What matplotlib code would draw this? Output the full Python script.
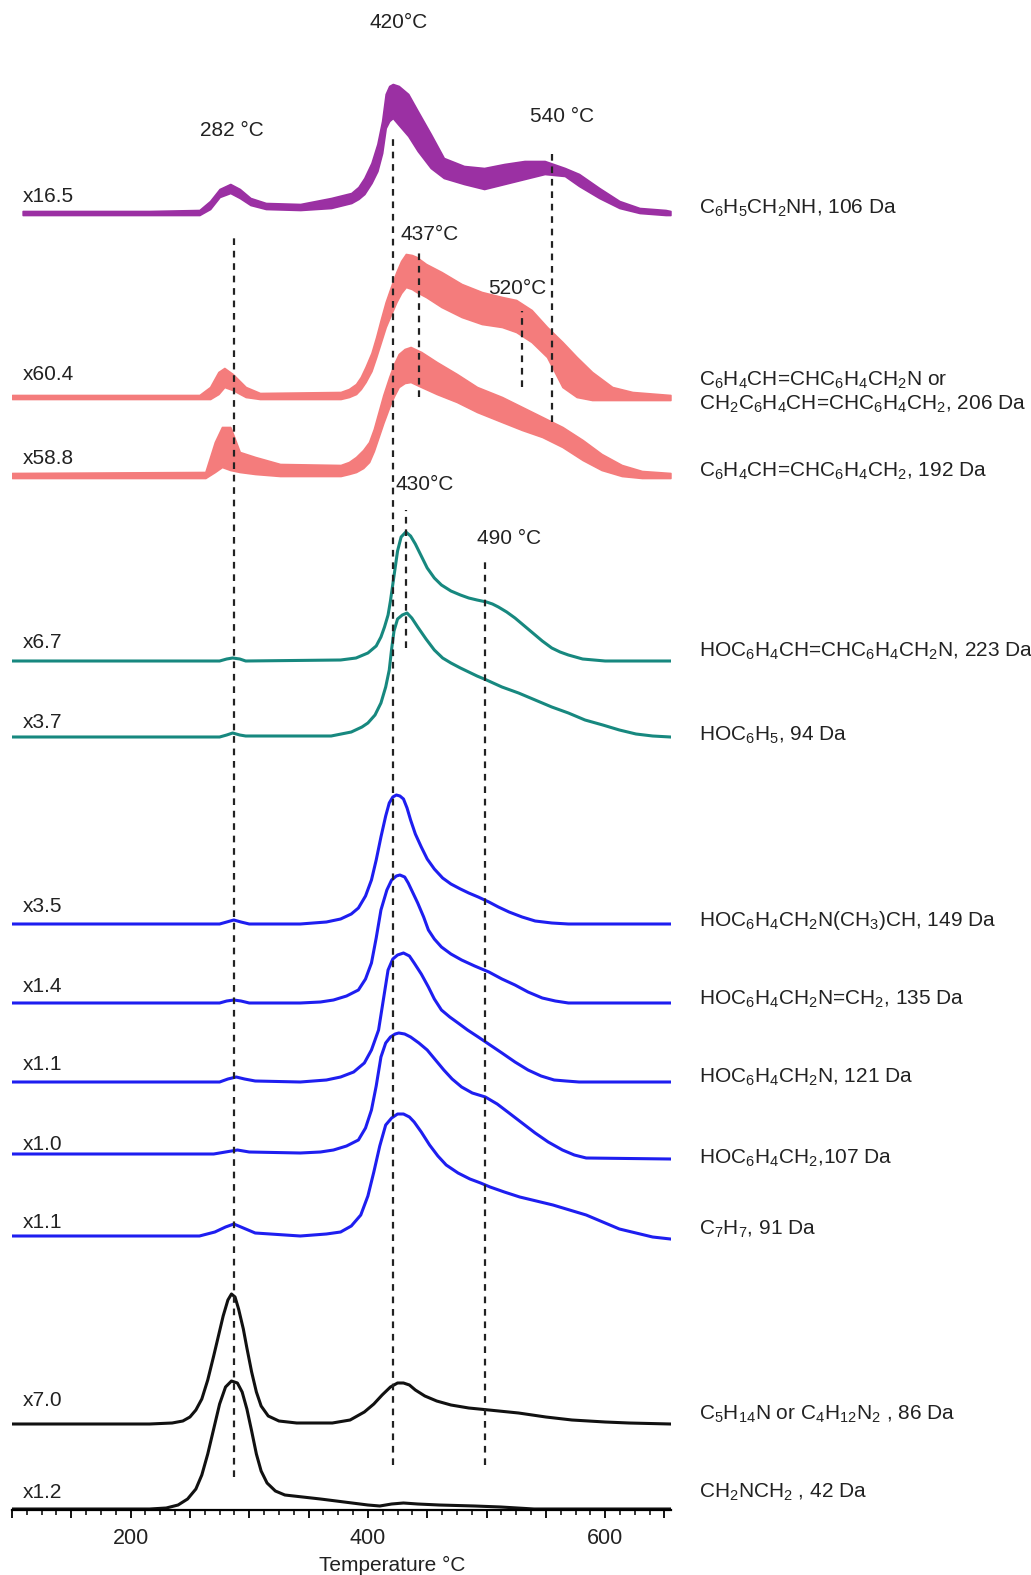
import matplotlib.pyplot as plt

plt.rcParams['font.family'] = ['Liberation Sans', 'DejaVu Sans']
plt.rcParams['mathtext.default'] = 'regular'

# --- data: temperature (°C) and signal above own baseline (arb. units) ---

# C6H5CH2NH 106 Da (noisy, given as upper / lower edge)
t_106 = [109, 216, 258, 267, 275, 284, 292, 301, 314, 343, 369, 386, 392, 397, 403, 408, 412, 415, 418, 421,
         426, 434, 442, 453, 464, 481, 498, 515, 532, 549, 566, 578, 595, 612, 629, 651, 655]
hi_106 = [2, 2, 3, 12, 24, 29, 24, 15, 10, 9, 15, 20, 26, 35, 50, 69, 92, 119, 127, 129,
          127, 119, 102, 79, 55, 47, 45, 49, 52, 52, 45, 39, 25, 12, 5, 3, 2]
lo_106 = [-2, -2, -2, 4, 16, 20, 15, 8, 4, 3, 5, 10, 14, 19, 30, 42, 60, 85, 92, 95,
          88, 77, 62, 45, 35, 29, 24, 29, 34, 39, 37, 27, 15, 5, 0, -2, -2]

# 206 Da (noisy)
t_206 = [100, 258, 267, 274, 279, 286, 297, 309, 377, 384, 390, 394, 398, 403, 407, 411, 415, 420, 424, 428,
         432, 437, 441, 449, 462, 479, 496, 513, 525, 538, 551, 564, 576, 589, 606, 623, 655]
hi_206 = [2, 2, 10, 25, 29, 23, 10, 4, 5, 8, 13, 20, 30, 44, 60, 78, 95, 112, 125, 136,
          143, 142, 140, 133, 125, 113, 105, 100, 97, 87, 70, 55, 40, 25, 10, 5, 2]
lo_206 = [-2, -2, -2, 3, 10, 7, 0, -2, -2, 0, 3, 8, 15, 26, 40, 55, 70, 84, 95, 104,
          110, 108, 105, 100, 90, 80, 73, 70, 65, 55, 40, 10, 0, -3, -3, -3, -3]

# 192 Da (noisy)
t_192 = [100, 263, 271, 277, 284, 292, 305, 326, 377, 384, 390, 396, 401, 405, 409, 413, 418, 422, 426, 431,
         436, 445, 458, 475, 492, 513, 530, 547, 564, 581, 597, 614, 631, 655]
hi_192 = [2, 3, 33, 48, 48, 23, 18, 11, 10, 13, 18, 25, 33, 46, 63, 80, 98, 111, 121, 126,
          128, 123, 113, 101, 88, 78, 68, 58, 48, 35, 21, 10, 4, 2]
lo_192 = [-3, -3, 3, 8, 5, 3, 1, -1, -1, 1, 3, 7, 13, 24, 38, 52, 68, 79, 88, 92,
          93, 88, 81, 73, 63, 53, 45, 38, 28, 15, 5, -1, -3, -3]

# 223 Da
t_223 = [100, 275, 281, 286, 292, 297, 377, 390, 400, 407, 411, 414, 417, 419, 422, 425, 428, 432, 436, 440,
         445, 450, 456, 462, 470, 478, 485, 492, 500, 505, 510, 517, 524, 532, 540, 547, 555, 562, 569, 581,
         600, 655]
s_223 = [0, 0, 2, 3, 2, 0, 1, 3, 8, 15, 24, 34, 46, 60, 85, 110, 124, 129, 125, 117,
         105, 93, 83, 76, 70, 66, 63, 61, 59, 57, 54, 49, 43, 35, 27, 20, 13, 9, 6, 2,
         0, 0]

# 94 Da
t_94 = [100, 275, 281, 286, 292, 297, 369, 386, 395, 400, 406, 411, 415, 418, 420, 422, 425, 429, 433, 437,
        442, 449, 456, 463, 470, 478, 485, 492, 500, 513, 527, 541, 555, 569, 583, 598, 612, 626, 640, 655]
s_94 = [0, 0, 2, 4, 2, 1, 1, 5, 10, 14, 22, 34, 50, 67, 88, 106, 118, 122, 124, 119,
        110, 98, 87, 79, 74, 69, 65, 61, 57, 50, 44, 37, 30, 24, 17, 12, 7, 3, 1, 0]

# 149 Da
t_149 = [100, 275, 281, 287, 293, 300, 343, 365, 377, 386, 392, 398, 403, 407, 411, 415, 418, 421, 424, 427,
         430, 433, 436, 440, 445, 450, 456, 463, 470, 478, 485, 493, 502, 510, 519, 530, 541, 555, 569, 655]
s_149 = [0, 0, 2, 4, 2, 0, 0, 2, 5, 10, 16, 28, 44, 64, 87, 108, 121, 127, 129, 128,
         125, 116, 104, 90, 77, 65, 55, 46, 40, 35, 31, 27, 22, 17, 12, 7, 3, 1, 0, 0]

# 135 Da
t_135 = [100, 275, 281, 287, 293, 300, 343, 360, 371, 382, 392, 398, 403, 407, 411, 416, 420, 424, 427, 431,
         434, 438, 442, 447, 451, 456, 462, 470, 479, 490, 502, 513, 524, 535, 547, 558, 569, 655]
s_135 = [0, 0, 2, 3, 2, 0, 0, 1, 3, 7, 13, 24, 40, 65, 93, 113, 123, 127, 128, 126,
         120, 110, 100, 86, 73, 64, 56, 49, 43, 37, 31, 24, 18, 11, 5, 2, 0, 0]

# 121 Da
t_121 = [100, 275, 282, 289, 296, 305, 343, 365, 377, 388, 397, 403, 409, 413, 417, 421, 425, 430, 435, 439,
         445, 451, 456, 462, 469, 476, 484, 493, 503, 513, 524, 535, 546, 557, 567, 578, 655]
s_121 = [0, 0, 3, 5, 3, 1, 0, 2, 5, 10, 19, 32, 52, 82, 112, 123, 127, 129, 126, 119,
         108, 95, 83, 72, 65, 59, 52, 45, 37, 29, 20, 12, 6, 2, 1, 0, 0]

# 107 Da
t_107 = [100, 270, 280, 290, 300, 343, 360, 371, 382, 392, 398, 403, 407, 411, 415, 419, 423, 426, 431, 436,
         443, 450, 457, 464, 471, 479, 488, 499, 509, 519, 530, 541, 552, 564, 574, 584, 655]
s_107 = [4, 4, 6, 8, 6, 5, 6, 8, 12, 18, 30, 48, 72, 101, 115, 121, 124, 125, 124, 121,
         115, 108, 98, 88, 79, 71, 65, 61, 54, 45, 35, 25, 16, 8, 3, 0, -1]

# 91 Da
t_91 = [100, 258, 271, 280, 287, 295, 305, 343, 365, 377, 386, 394, 400, 405, 410, 415, 420, 425, 430, 435,
        439, 445, 452, 459, 466, 476, 486, 495, 503, 515, 528, 542, 556, 570, 584, 598, 612, 626, 640, 655]
s_91 = [0, 0, 4, 9, 12, 8, 3, 0, 2, 4, 10, 21, 40, 64, 90, 111, 118, 122, 122, 119,
        114, 104, 91, 80, 71, 63, 57, 53, 49, 44, 39, 35, 31, 26, 21, 14, 7, 3, -1, -3]

# 86 Da
t_86 = [100, 216, 235, 244, 250, 255, 260, 265, 270, 274, 278, 282, 285, 288, 291, 295, 298, 302, 306, 310,
        316, 325, 340, 370, 385, 397, 405, 412, 419, 425, 430, 435, 440, 448, 458, 470, 485, 502, 527, 550,
        572, 600, 620, 655]
s_86 = [0, 0, 1, 3, 7, 14, 25, 44, 68, 88, 108, 124, 130, 127, 115, 95, 76, 52, 32, 18,
        8, 3, 1, 1, 4, 12, 20, 29, 37, 41, 41, 39, 34, 28, 23, 19, 16, 14, 11, 7,
        4, 2, 1, 0]

# 42 Da
t_42 = [100, 216, 230, 240, 248, 255, 260, 265, 270, 275, 280, 285, 290, 294, 298, 302, 306, 310, 315, 322,
        330, 345, 360, 380, 400, 410, 420, 430, 442, 460, 490, 512, 540, 655]
s_42 = [0, 0, 1, 4, 10, 20, 34, 55, 80, 105, 122, 128, 126, 117, 100, 78, 55, 38, 26, 18,
        14, 12, 10, 7, 4, 3, 5, 6, 5, 4, 3, 2, 0, 0]

scale_labels = ['x16.5', 'x60.4', 'x58.8', 'x6.7', 'x3.7', 'x3.5', 'x1.4', 'x1.1', 'x1.0', 'x1.1', 'x7.0', 'x1.2']
species = ['C$_6$H$_5$CH$_2$NH, 106 Da',
           'C$_6$H$_4$CH=CHC$_6$H$_4$CH$_2$N or\nCH$_2$C$_6$H$_4$CH=CHC$_6$H$_4$CH$_2$, 206 Da',
           'C$_6$H$_4$CH=CHC$_6$H$_4$CH$_2$, 192 Da',
           'HOC$_6$H$_4$CH=CHC$_6$H$_4$CH$_2$N, 223 Da',
           'HOC$_6$H$_5$, 94 Da',
           'HOC$_6$H$_4$CH$_2$N(CH$_3$)CH, 149 Da',
           'HOC$_6$H$_4$CH$_2$N=CH$_2$, 135 Da',
           'HOC$_6$H$_4$CH$_2$N, 121 Da',
           'HOC$_6$H$_4$CH$_2$,107 Da',
           'C$_7$H$_7$, 91 Da',
           'C$_5$H$_{14}$N or C$_4$H$_{12}$N$_2$ , 86 Da',
           'CH$_2$NCH$_2$ , 42 Da']

# marked peak temperatures and where their guide lines sit
peak_labels = ['420°C', '282 °C', '540 °C', '437°C', '520°C', '430°C', '490 °C']
peak_lines = [421, 287, 555, 443, 530, 432, 499]

# --- layout (vertical stacking in pixel-like units) ---
purple = '#9B30A3'
pink = '#F47C7C'
teal = '#17887F'
blue = '#1E1EF0'
black = '#111111'

fig = plt.figure(figsize=(10.31, 15.75), dpi=100)
ax = fig.add_axes([12 / 1031, 1 - 1510 / 1575, 659 / 1031, 1510 / 1575])
ax.set_xlim(100, 655.5)
ax.set_ylim(0, 1510)

noisy = [(t_106, hi_106, lo_106, 1297, purple),
         (t_206, hi_206, lo_206, 1113, pink),
         (t_192, hi_192, lo_192, 1035, pink)]
for t, hi, lo, off, c in noisy:
    ax.fill_between(t, [off + v for v in lo], [off + v for v in hi], color=c, lw=1.2, zorder=2)

smooth = [(t_223, s_223, 849, teal), (t_94, s_94, 773, teal),
          (t_149, s_149, 586, blue), (t_135, s_135, 507, blue), (t_121, s_121, 428, blue),
          (t_107, s_107, 352, blue), (t_91, s_91, 274, blue),
          (t_86, s_86, 86, black), (t_42, s_42, 1, black)]
for t, s, off, c in smooth:
    ax.plot(t, [off + v for v in s], color=c, lw=2.2, solid_joinstyle='round', zorder=2)

# dashed guide lines
line_top = [1374, 1272, 1361, 1261, 1199, 1000, 948]
line_bot = [45, 33, 1088, 1113, 1123, 862, 45]
for x, y1, y0 in zip(peak_lines, line_top, line_bot):
    ax.plot([x, x], [y0, y1], color='#222222', lw=1.6, ls=(0, (3, 2.6)), zorder=3)

txt = dict(fontsize=15, color='#222222', va='center')
label_pos = [(426, 1488), (285.5, 1380), (564, 1394), (452, 1276), (526, 1222), (448, 1025), (519, 972)]
for s, (x, y) in zip(peak_labels, label_pos):
    ax.text(x, y, s, ha='center', **txt)

left_y = [1314, 1136, 1051, 867, 788, 603, 524, 445, 366, 287, 110, 17]
for s, y in zip(scale_labels, left_y):
    ax.text(109.3, y, s, ha='left', **txt)

right_y = [1302, 1118, 1039, 859, 775, 590, 511, 433, 352, 281, 96, 18]
for s, y in zip(species, right_y):
    if '\n' in s:
        a, b = s.split('\n')
        ax.text(679.4, y + 12, a, ha='left', clip_on=False, **txt)
        ax.text(679.4, y - 12, b, ha='left', clip_on=False, **txt)
    else:
        ax.text(679.4, y, s, ha='left', clip_on=False, **txt)

# axis styling
for side in ['top', 'left', 'right']:
    ax.spines[side].set_visible(False)
ax.spines['bottom'].set_linewidth(1.6)
ax.set_yticks([])
major = list(range(100, 656, 50))
ax.set_xticks(major)
ax.set_xticklabels([str(v) if v in (200, 400, 600) else '' for v in major])
ax.set_xticks([100 + 12.5 * i for i in range(45)], minor=True)
ax.tick_params(axis='x', which='major', direction='out', length=6, width=1.3, pad=7,
               labelsize=15.5, labelcolor='#222222')
ax.tick_params(axis='x', which='minor', direction='out', length=3.5, width=1.1)
ax.patch.set_alpha(0)

fig.text(392 / 1031, 1 - 1565 / 1575, 'Temperature °C', ha='center', va='center',
         fontsize=15, color='#222222')

fig.savefig('out.png', dpi=100, facecolor='white')
